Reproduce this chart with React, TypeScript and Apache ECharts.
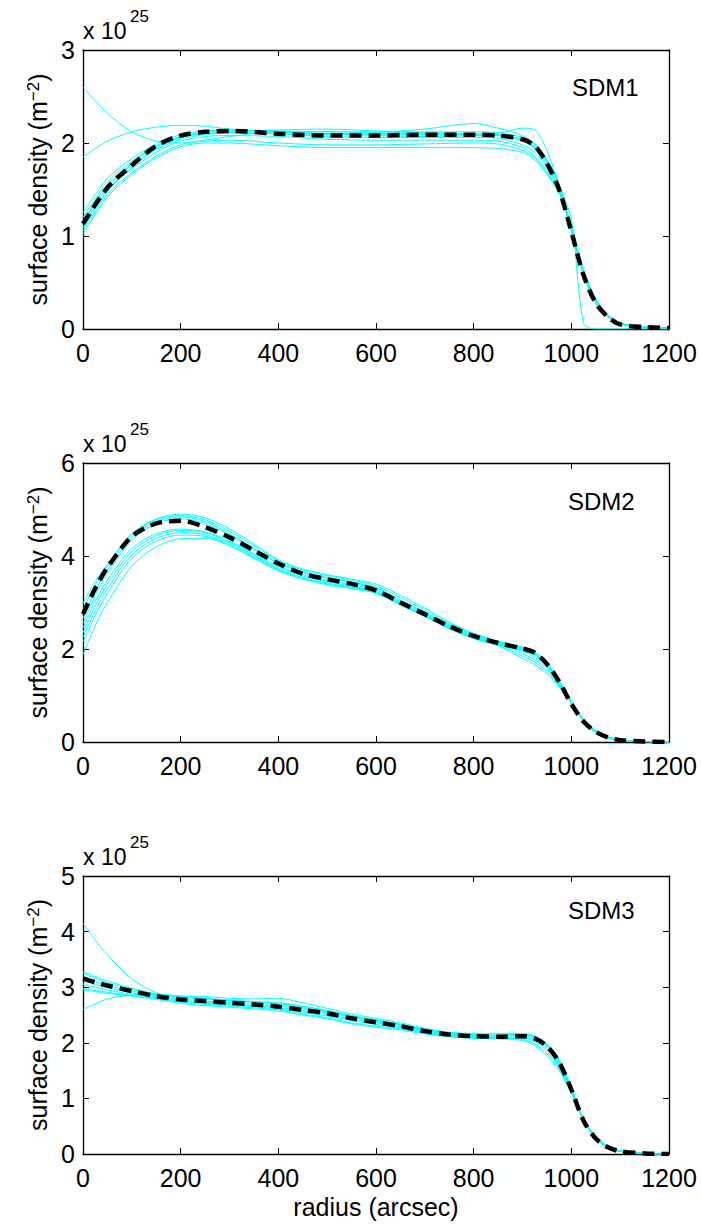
import React, { useEffect, useRef } from 'react';
import * as echarts from 'echarts';

const FONT = '"Liberation Sans", Arial, Helvetica, sans-serif';

// ---------- SDM1 ----------
const X1 = [0, 50, 100, 150, 200, 250, 300, 400, 500, 600, 700, 800, 850, 900, 925, 950, 975, 1000, 1025, 1050, 1075, 1100, 1150, 1200];
const SDM1_MEAN = [1.13, 1.52, 1.76, 1.97, 2.08, 2.12, 2.13, 2.10, 2.08, 2.08, 2.09, 2.09, 2.08, 2.04, 1.97, 1.78, 1.50, 1.05, 0.58, 0.28, 0.13, 0.05, 0.02, 0.01];
const SDM1_RUNS = [
  [2.60, 2.32, 2.12, 2.02, 2.00, 2.03, 2.07, 2.12, 2.10, 2.08, 2.07, 2.08, 2.08, 2.03, 1.95, 1.80, 1.55, 1.08, 0.60, 0.30, 0.14, 0.06, 0.02, 0.01],
  [1.85, 2.02, 2.12, 2.17, 2.19, 2.18, 2.15, 2.12, 2.12, 2.12, 2.15, 2.21, 2.16, 2.08, 1.98, 1.82, 1.55, 1.10, 0.60, 0.30, 0.14, 0.06, 0.02, 0.01],
  [1.15, 1.52, 1.78, 1.96, 2.06, 2.10, 2.11, 2.10, 2.09, 2.09, 2.09, 2.09, 2.10, 2.16, 2.14, 1.92, 1.55, 1.18, 0.06, 0.00, 0.00, 0.00, 0.00, 0.00],
  [1.25, 1.62, 1.83, 1.99, 2.09, 2.13, 2.14, 2.13, 2.12, 2.11, 2.11, 2.10, 2.09, 2.04, 1.96, 1.78, 1.50, 1.05, 0.58, 0.28, 0.13, 0.05, 0.02, 0.01],
  [1.20, 1.58, 1.80, 1.97, 2.07, 2.12, 2.13, 2.12, 2.10, 2.10, 2.10, 2.09, 2.08, 2.02, 1.94, 1.76, 1.50, 1.06, 0.59, 0.29, 0.13, 0.05, 0.02, 0.01],
  [1.15, 1.55, 1.76, 1.93, 2.04, 2.09, 2.11, 2.10, 2.07, 2.06, 2.06, 2.06, 2.05, 1.98, 1.90, 1.74, 1.50, 1.07, 0.60, 0.30, 0.14, 0.06, 0.02, 0.01],
  [1.10, 1.50, 1.72, 1.90, 2.02, 2.07, 2.08, 2.07, 2.04, 2.03, 2.03, 2.03, 2.02, 1.95, 1.86, 1.70, 1.48, 1.08, 0.62, 0.31, 0.15, 0.06, 0.02, 0.01],
  [1.05, 1.45, 1.68, 1.86, 1.98, 2.02, 2.03, 2.00, 1.98, 1.98, 1.99, 2.00, 1.99, 1.92, 1.84, 1.68, 1.47, 1.08, 0.62, 0.32, 0.15, 0.06, 0.02, 0.01],
  [1.02, 1.42, 1.66, 1.84, 1.96, 2.00, 2.00, 1.97, 1.95, 1.95, 1.95, 1.95, 1.94, 1.90, 1.82, 1.66, 1.46, 1.09, 0.63, 0.32, 0.15, 0.06, 0.02, 0.01],
  [1.08, 1.48, 1.74, 1.94, 2.06, 2.11, 2.13, 2.14, 2.15, 2.13, 2.12, 2.12, 2.11, 2.06, 1.99, 1.82, 1.55, 1.06, 0.58, 0.28, 0.13, 0.05, 0.02, 0.01],
];

// ---------- SDM2 ----------
const X2 = [0, 25, 50, 100, 150, 200, 250, 300, 350, 400, 450, 500, 550, 600, 650, 700, 750, 800, 850, 900, 925, 950, 975, 1000, 1025, 1050, 1075, 1100, 1150, 1200];
const SDM2_MEAN = [2.75, 3.30, 3.75, 4.42, 4.70, 4.76, 4.62, 4.40, 4.12, 3.84, 3.62, 3.50, 3.40, 3.26, 3.00, 2.75, 2.49, 2.28, 2.13, 2.01, 1.92, 1.68, 1.30, 0.82, 0.44, 0.22, 0.10, 0.04, 0.01, 0.0];
const SDM2_RUNS = [
  [2.98, 3.45, 3.82, 4.48, 4.80, 4.90, 4.82, 4.58, 4.26, 3.92, 3.72, 3.60, 3.50, 3.40, 3.15, 2.88, 2.58, 2.34, 2.17, 2.04, 1.93, 1.72, 1.32, 0.88, 0.47, 0.22, 0.10, 0.04, 0.01, 0.0],
  [2.85, 3.38, 3.78, 4.46, 4.78, 4.87, 4.78, 4.53, 4.22, 3.90, 3.70, 3.58, 3.48, 3.36, 3.10, 2.84, 2.55, 2.32, 2.16, 2.03, 1.92, 1.70, 1.30, 0.86, 0.46, 0.21, 0.09, 0.04, 0.01, 0.0],
  [2.65, 3.25, 3.70, 4.40, 4.74, 4.84, 4.74, 4.48, 4.16, 3.86, 3.66, 3.54, 3.44, 3.32, 3.05, 2.79, 2.52, 2.30, 2.15, 2.02, 1.90, 1.68, 1.28, 0.85, 0.45, 0.21, 0.09, 0.04, 0.01, 0.0],
  [2.55, 3.15, 3.62, 4.34, 4.70, 4.80, 4.70, 4.45, 4.14, 3.84, 3.64, 3.52, 3.42, 3.30, 3.02, 2.77, 2.50, 2.28, 2.13, 2.00, 1.88, 1.65, 1.26, 0.84, 0.45, 0.21, 0.09, 0.04, 0.01, 0.0],
  [2.45, 3.02, 3.48, 4.16, 4.48, 4.58, 4.52, 4.32, 4.05, 3.78, 3.60, 3.48, 3.38, 3.27, 3.00, 2.75, 2.48, 2.26, 2.12, 1.98, 1.86, 1.64, 1.26, 0.85, 0.46, 0.22, 0.10, 0.04, 0.01, 0.0],
  [2.35, 2.92, 3.40, 4.10, 4.44, 4.55, 4.50, 4.30, 4.02, 3.75, 3.57, 3.45, 3.35, 3.24, 2.98, 2.73, 2.47, 2.25, 2.11, 1.95, 1.82, 1.60, 1.24, 0.85, 0.46, 0.22, 0.10, 0.04, 0.01, 0.0],
  [2.25, 2.82, 3.30, 4.02, 4.38, 4.50, 4.46, 4.27, 4.00, 3.72, 3.54, 3.42, 3.33, 3.22, 2.96, 2.71, 2.45, 2.24, 2.10, 1.90, 1.77, 1.56, 1.22, 0.86, 0.47, 0.23, 0.10, 0.04, 0.01, 0.0],
  [2.15, 2.72, 3.20, 3.95, 4.32, 4.45, 4.42, 4.24, 3.97, 3.70, 3.52, 3.40, 3.31, 3.20, 2.95, 2.70, 2.44, 2.23, 2.08, 1.85, 1.72, 1.52, 1.20, 0.86, 0.48, 0.24, 0.11, 0.05, 0.01, 0.0],
  [1.88, 2.50, 3.00, 3.78, 4.20, 4.37, 4.38, 4.22, 3.95, 3.68, 3.50, 3.38, 3.30, 3.20, 2.95, 2.70, 2.44, 2.22, 2.07, 1.80, 1.66, 1.47, 1.18, 0.86, 0.48, 0.24, 0.11, 0.05, 0.01, 0.0],
];

// ---------- SDM3 ----------
const X3 = [0, 25, 50, 100, 150, 200, 250, 300, 350, 400, 450, 500, 550, 600, 650, 700, 750, 800, 850, 900, 925, 950, 975, 1000, 1025, 1050, 1075, 1100, 1150, 1200];
const SDM3_MEAN = [3.16, 3.09, 3.03, 2.93, 2.84, 2.78, 2.75, 2.72, 2.69, 2.65, 2.59, 2.53, 2.44, 2.37, 2.30, 2.21, 2.15, 2.12, 2.11, 2.12, 2.08, 1.94, 1.65, 1.16, 0.60, 0.28, 0.12, 0.05, 0.01, 0.0];
const SDM3_RUNS = [
  [4.15, 3.85, 3.58, 3.15, 2.90, 2.83, 2.79, 2.76, 2.73, 2.70, 2.63, 2.56, 2.47, 2.40, 2.32, 2.23, 2.17, 2.14, 2.13, 2.14, 2.10, 1.96, 1.66, 1.16, 0.60, 0.28, 0.12, 0.05, 0.01, 0.0],
  [2.60, 2.70, 2.79, 2.86, 2.87, 2.84, 2.80, 2.77, 2.74, 2.71, 2.65, 2.58, 2.49, 2.41, 2.33, 2.24, 2.18, 2.15, 2.14, 2.15, 2.11, 1.97, 1.68, 1.17, 0.60, 0.28, 0.12, 0.05, 0.01, 0.0],
  [3.28, 3.19, 3.11, 2.98, 2.88, 2.84, 2.83, 2.80, 2.79, 2.80, 2.72, 2.62, 2.52, 2.44, 2.36, 2.26, 2.19, 2.17, 2.17, 2.17, 2.12, 1.98, 1.70, 1.20, 0.62, 0.29, 0.12, 0.05, 0.01, 0.0],
  [3.25, 3.16, 3.08, 2.96, 2.87, 2.82, 2.79, 2.76, 2.74, 2.72, 2.66, 2.58, 2.49, 2.41, 2.33, 2.24, 2.17, 2.14, 2.13, 2.15, 2.10, 1.94, 1.64, 1.17, 0.61, 0.29, 0.12, 0.05, 0.01, 0.0],
  [3.18, 3.10, 3.03, 2.93, 2.85, 2.79, 2.75, 2.72, 2.69, 2.66, 2.61, 2.54, 2.46, 2.38, 2.31, 2.22, 2.16, 2.13, 2.12, 2.13, 2.08, 1.92, 1.62, 1.16, 0.61, 0.29, 0.12, 0.05, 0.01, 0.0],
  [3.12, 3.05, 2.99, 2.90, 2.83, 2.77, 2.73, 2.70, 2.67, 2.63, 2.58, 2.51, 2.43, 2.36, 2.29, 2.20, 2.14, 2.11, 2.10, 2.10, 2.05, 1.88, 1.60, 1.15, 0.62, 0.30, 0.13, 0.05, 0.01, 0.0],
  [3.05, 3.00, 2.95, 2.87, 2.81, 2.75, 2.71, 2.68, 2.65, 2.61, 2.55, 2.48, 2.40, 2.33, 2.27, 2.19, 2.13, 2.10, 2.09, 2.08, 2.02, 1.84, 1.57, 1.14, 0.62, 0.30, 0.13, 0.05, 0.01, 0.0],
  [2.98, 2.94, 2.91, 2.85, 2.79, 2.73, 2.69, 2.66, 2.63, 2.59, 2.52, 2.45, 2.36, 2.30, 2.25, 2.17, 2.12, 2.09, 2.08, 2.06, 1.98, 1.80, 1.53, 1.12, 0.63, 0.31, 0.13, 0.05, 0.01, 0.0],
  [2.95, 2.92, 2.89, 2.84, 2.78, 2.71, 2.67, 2.64, 2.61, 2.57, 2.50, 2.43, 2.34, 2.28, 2.23, 2.16, 2.11, 2.08, 2.07, 2.04, 1.95, 1.76, 1.50, 1.10, 0.63, 0.31, 0.14, 0.06, 0.01, 0.0],
];

const X_TICKS = [0, 200, 400, 600, 800, 1000, 1200];
const PANEL_LABELS = ['SDM1', 'SDM2', 'SDM3'];
const Y_MAX = [3, 6, 5];
const Y_STEP = [1, 2, 1];
const EXPONENT = '25';

const PANELS = [
  { x: X1, mean: SDM1_MEAN, runs: SDM1_RUNS },
  { x: X2, mean: SDM2_MEAN, runs: SDM2_RUNS },
  { x: X3, mean: SDM3_MEAN, runs: SDM3_RUNS },
];

const GRID_TOP = [50, 463, 876];
const GRID_H = [279, 279, 278];
const LABEL_POS = [[572, 88], [568, 502], [568, 911]];

export default function App() {
  const ref = useRef<HTMLDivElement>(null);
  useEffect(() => {
    const chart = echarts.init(ref.current!, null, { renderer: 'svg' });
    const axisLine = { show: true, onZero: false, lineStyle: { color: '#000', width: 1.3 } };
    const axisTick = { show: true, inside: true, length: 6, lineStyle: { color: '#000', width: 1 } };
    const fmt = (v: number) => String(v);

    const grid: any[] = [];
    const xAxis: any[] = [];
    const yAxis: any[] = [];
    const series: any[] = [];
    const graphic: any[] = [];

    PANELS.forEach((p, i) => {
      grid.push({ left: 83, top: GRID_TOP[i], width: 586, height: GRID_H[i] });
      xAxis.push({
        gridIndex: i, type: 'value', min: X_TICKS[0], max: X_TICKS[X_TICKS.length - 1], interval: 200,
        position: 'bottom', axisLine, axisTick,
        axisLabel: { fontSize: 25, color: '#000', fontFamily: FONT, margin: 11, formatter: fmt },
        splitLine: { show: false },
        name: i === 2 ? 'radius (arcsec)' : '',
        nameLocation: 'middle', nameGap: 40,
        nameTextStyle: { fontSize: 25, color: '#000', fontFamily: FONT },
      });
      xAxis.push({
        gridIndex: i, type: 'value', min: 0, max: 1200, interval: 200,
        position: 'top', axisLine, axisTick, axisLabel: { show: false }, splitLine: { show: false },
      });
      yAxis.push({
        gridIndex: i, type: 'value', min: 0, max: Y_MAX[i], interval: Y_STEP[i],
        position: 'left', axisLine, axisTick,
        axisLabel: { fontSize: 25, color: '#000', fontFamily: FONT, margin: 8, formatter: fmt },
        splitLine: { show: false },
        name: 'surface density (m{sup|−2})',
        nameLocation: 'middle', nameGap: 30, nameRotate: 90,
        nameTextStyle: {
          fontSize: 25, color: '#000', fontFamily: FONT,
          rich: { sup: { fontSize: 17, color: '#000', fontFamily: FONT, verticalAlign: 'top', padding: [0, 0, 8, 0] } },
        },
      });
      yAxis.push({
        gridIndex: i, type: 'value', min: 0, max: Y_MAX[i], interval: Y_STEP[i],
        position: 'right', axisLine, axisTick, axisLabel: { show: false }, splitLine: { show: false },
      });
      p.runs.forEach((run) => {
        series.push({
          type: 'line', xAxisIndex: 2 * i, yAxisIndex: 2 * i,
          data: p.x.map((xx, k) => [xx, run[k]]),
          smooth: 0.3, symbol: 'none', silent: true, z: 2,
          lineStyle: { color: '#00ffff', width: 1 },
        });
      });
      series.push({
        type: 'line', xAxisIndex: 2 * i, yAxisIndex: 2 * i,
        data: p.x.map((xx, k) => [xx, p.mean[k]]),
        smooth: 0.3, symbol: 'none', silent: true, z: 3,
        lineStyle: { color: '#000', width: 4.5, type: [12, 7] },
      });
      graphic.push({
        type: 'text', left: 83, top: GRID_TOP[i] - 31,
        style: { text: 'x 10', fontSize: 23, fill: '#000', fontFamily: FONT },
      });
      graphic.push({
        type: 'text', left: 130, top: GRID_TOP[i] - 42,
        style: { text: EXPONENT, fontSize: 17, fill: '#000', fontFamily: FONT },
      });
      graphic.push({
        type: 'text', left: LABEL_POS[i][0], top: LABEL_POS[i][1] - 13,
        style: { text: PANEL_LABELS[i], fontSize: 24, fill: '#000', fontFamily: FONT },
      });
    });

    chart.setOption({
      animation: false,
      backgroundColor: '#fff',
      grid, xAxis, yAxis, series, graphic,
    });
    return () => chart.dispose();
  }, []);
  return (
    <div
      ref={ref}
      style={{ position: 'absolute', left: 0, top: 0, width: 701, height: 1226, background: '#fff' }}
    />
  );
}
